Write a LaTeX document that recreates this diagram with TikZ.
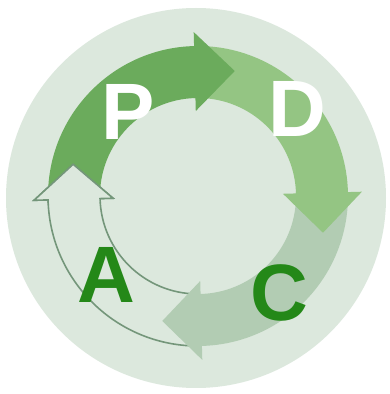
\documentclass[tikz,border=0pt]{standalone}
\usepackage{fontspec}
\setmainfont{Liberation Sans}
\usetikzlibrary{calc}
\definecolor{bgc}{HTML}{DCE8DD}
\definecolor{pfill}{HTML}{6BAB5C}
\definecolor{dfill}{HTML}{94C583}
\definecolor{cfill}{HTML}{B2CCB3}
\definecolor{aline}{HTML}{74967A}
\definecolor{letgreen}{HTML}{248818}
\newcommand{\arrowsector}[4]{(#1:150pt) arc[start angle=#1, end angle=#2, radius=150pt] -- (#2:164pt) -- ($(#2:124pt)+(#4:#3pt)$) -- (#2:85pt) -- (#2:98pt) arc[start angle=#2, end angle=#1, radius=98pt] -- cycle}
\begin{document}
\begin{tikzpicture}[x=1pt,y=1pt,
  letter/.style={font=\fontsize{80}{80}\selectfont\bfseries, inner sep=0pt},
  afill/.style={fill=bgc, draw=aline, line width=1.6pt}]
\fill[white] (0,0) rectangle (390,394);
\useasboundingbox (0,0) rectangle (390,394);
\fill[bgc] (196,196) circle[radius=190pt];
\begin{scope}[shift={(198,198)}, rotate=1.5]
  \path[afill] \arrowsector{-92}{-180}{35}{90};
  \fill[cfill] \arrowsector{1}{-90}{39}{180};
  \fill[dfill] \arrowsector{91}{0}{40}{-90};
  \fill[pfill] \arrowsector{180}{90}{40}{0};
  \begin{scope}
    \clip (-180,-3) rectangle (-70,60);
    \path[afill] \arrowsector{-92}{-180}{35}{90};
  \end{scope}
\end{scope}
\node[letter, text=white] (P) at (128,282.5) {P};
\node[letter, text=white] (D) at (297.5,285) {D};
\node[letter, text=letgreen] (A) at (106.5,119) {A};
\node[letter, text=letgreen] (C) at (279.5,101.5) {C};
\end{tikzpicture}
\end{document}
